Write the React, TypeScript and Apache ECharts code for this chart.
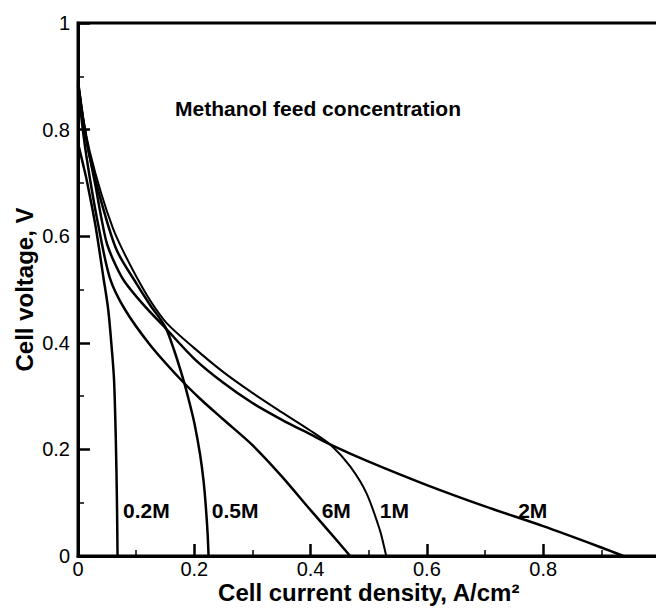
import React, { useEffect, useRef } from 'react';
import * as echarts from 'echarts';

// Tick labels (the x = 1 label falls outside the picture, as in the original)
const xTickLabels = ['0', '0.2', '0.4', '0.6', '0.8'];
const yTickLabels = ['0', '0.2', '0.4', '0.6', '0.8', '1'];

// Series names (methanol feed concentration)
const seriesNames = ['0.2M', '0.5M', '6M', '1M', '2M'];

// Current density (A/cm2) and cell voltage (V) for each curve
const x02M = [0, 0.008, 0.015, 0.03, 0.0435, 0.052, 0.058, 0.062, 0.065, 0.067, 0.068];
const y02M = [0.775, 0.738, 0.705, 0.62, 0.524, 0.462, 0.39, 0.33, 0.22, 0.1, 0];

const x05M = [0, 0.01, 0.02, 0.04, 0.0665, 0.1, 0.124, 0.15, 0.165, 0.18, 0.19, 0.2, 0.21, 0.216, 0.22, 0.223, 0.2245];
const y05M = [0.89, 0.81, 0.75, 0.665, 0.574, 0.512, 0.471, 0.43, 0.387, 0.335, 0.295, 0.25, 0.19, 0.14, 0.09, 0.04, 0];

const x6M = [0, 0.01, 0.021, 0.035, 0.055, 0.081, 0.124, 0.175, 0.21, 0.25, 0.3, 0.35, 0.4, 0.435, 0.468];
const y6M = [0.88, 0.785, 0.705, 0.62, 0.521, 0.462, 0.396, 0.333, 0.295, 0.256, 0.208, 0.15, 0.086, 0.042, 0];

const x1M = [0, 0.01, 0.02, 0.04, 0.06, 0.075, 0.1, 0.125, 0.1525, 0.2, 0.25, 0.3, 0.35, 0.4, 0.436, 0.468, 0.496, 0.519, 0.528, 0.53];
const y1M = [0.895, 0.815, 0.76, 0.68, 0.615, 0.578, 0.525, 0.478, 0.437, 0.39, 0.345, 0.306, 0.27, 0.235, 0.207, 0.168, 0.118, 0.049, 0.01, 0];

const x2M = [0, 0.01, 0.02, 0.03, 0.04, 0.05, 0.065, 0.08, 0.112, 0.15, 0.2, 0.25, 0.3, 0.35, 0.4, 0.436, 0.5, 0.6, 0.7, 0.8, 0.9, 0.938];
const y2M = [0.885, 0.81, 0.75, 0.695, 0.635, 0.585, 0.545, 0.515, 0.472, 0.428, 0.37, 0.325, 0.287, 0.256, 0.228, 0.208, 0.177, 0.133, 0.093, 0.056, 0.016, 0];

const seriesX = [x02M, x05M, x6M, x1M, x2M];
const seriesY = [y02M, y05M, y6M, y1M, y2M];

// Curve label anchor points (data coordinates, left edge / middle)
const labelXs = [0.0774, 0.23, 0.419, 0.519, 0.757];
const labelYs = [0.086, 0.086, 0.086, 0.086, 0.086];

const annotationText = 'Methanol feed concentration';
const annotationPos = [0.167, 0.839];

const FONT = '"Liberation Sans", Arial, Helvetica, sans-serif';

export default function App() {
  const ref = useRef<HTMLDivElement>(null);

  useEffect(() => {
    if (!ref.current) return;
    const chart = echarts.init(ref.current, undefined, { renderer: 'svg' });

    const labelFromTick = (labels: string[]) => (v: number) => {
      const i = Math.round(v / 0.2);
      if (Math.abs(v - i * 0.2) > 1e-6) return '';
      return labels[i] ?? '';
    };

    const axisCommon = {
      type: 'value' as const,
      min: 0,
      max: 1,
      interval: 0.2,
      axisLine: { show: true, onZero: false, lineStyle: { color: '#000', width: 3 } },
      axisTick: { show: true, inside: true, length: 12, lineStyle: { color: '#000', width: 2.5 } },
      minorTick: { show: true, splitNumber: 2, length: 6, lineStyle: { color: '#000', width: 1.5 } },
      splitLine: { show: false },
      nameLocation: 'middle' as const,
      nameMoveOverlap: false,
      nameTextStyle: {
        fontSize: 24,
        lineHeight: 24,
        fontWeight: 'bold' as const,
        color: '#000',
        fontFamily: FONT,
      },
    };

    chart.setOption({
      animation: false,
      backgroundColor: '#fff',
      textStyle: { fontFamily: FONT },
      grid: {
        left: 78,
        top: 23,
        width: 581.5,
        height: 533,
        outerBoundsMode: 'none',
        containLabel: false,
        show: true,
        borderColor: '#000',
        borderWidth: 3,
        backgroundColor: 'transparent',
      },
      xAxis: {
        ...axisCommon,
        name: 'Cell current density, A/cm²',
        nameGap: 24,
        axisLabel: {
          fontSize: 20,
          lineHeight: 18,
          color: '#000',
          margin: 4,
          fontFamily: FONT,
          formatter: labelFromTick(xTickLabels),
        },
      },
      yAxis: {
        ...axisCommon,
        name: 'Cell voltage, V',
        nameGap: 42,
        nameRotate: 90,
        axisLabel: {
          fontSize: 20,
          color: '#000',
          margin: 8,
          fontFamily: FONT,
          formatter: labelFromTick(yTickLabels),
        },
      },
      series: seriesNames.map((name, k) => ({
        name,
        type: 'line',
        data: seriesX[k].map((x, i) => [x, seriesY[k][i]]),
        showSymbol: false,
        symbol: 'none',
        smooth: 0.3,
        lineStyle: { color: '#000', width: name === '1M' ? 2 : 2.5 },
      })),
    });

    const texts: any[] = seriesNames.map((name, k) => {
      const p = chart.convertToPixel({ gridIndex: 0 }, [labelXs[k], labelYs[k]]) as number[];
      return {
        type: 'text',
        x: p[0],
        y: p[1],
        style: {
          text: name,
          fontSize: 21,
          fontWeight: 'bold',
          fontFamily: FONT,
          fill: '#000',
          align: 'left',
          verticalAlign: 'middle',
        },
      };
    });
    const ap = chart.convertToPixel({ gridIndex: 0 }, annotationPos) as number[];
    texts.push({
      type: 'text',
      x: ap[0],
      y: ap[1],
      style: {
        text: annotationText,
        fontSize: 21,
        fontWeight: 'bold',
        fontFamily: FONT,
        fill: '#000',
        align: 'left',
        verticalAlign: 'middle',
      },
    });
    chart.setOption({ graphic: texts });

    return () => chart.dispose();
  }, []);

  return (
    <div
      ref={ref}
      style={{ position: 'fixed', left: 0, top: 0, width: 656, height: 608 }}
    />
  );
}
